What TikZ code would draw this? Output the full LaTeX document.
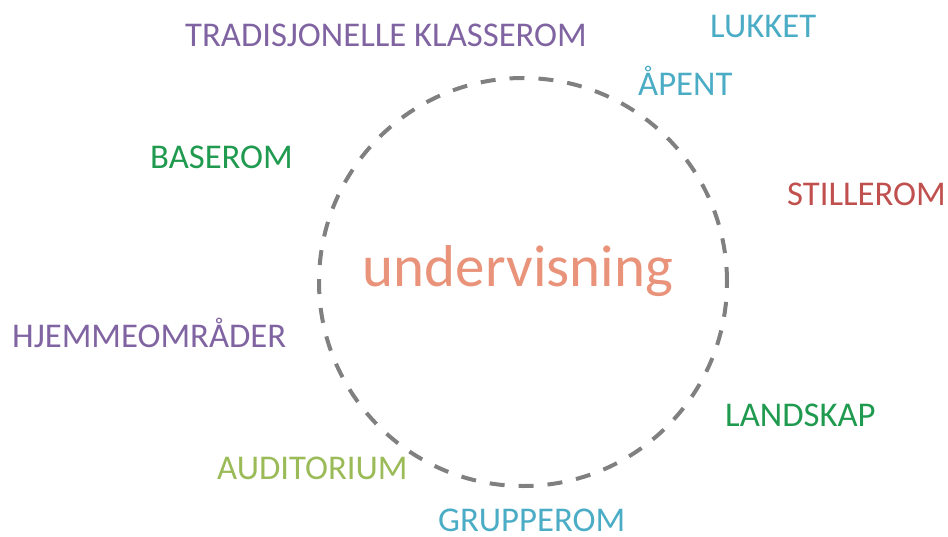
\documentclass[tikz,border=0pt]{standalone}
\usepackage{fontspec}
\setmainfont{Carlito}
\definecolor{cpurple}{HTML}{8064A2}
\definecolor{ccyan}{HTML}{4BACC6}
\definecolor{cgreen}{HTML}{1F9A4F}
\definecolor{cred}{HTML}{C0504D}
\definecolor{clight}{HTML}{9BBB59}
\definecolor{csalmon}{HTML}{E9937B}
\definecolor{cgray}{HTML}{808080}
\begin{document}
\begin{tikzpicture}[x=1pt,y=-1pt,
  lbl/.style={anchor=base west,inner sep=0pt,font=\fontsize{34.7}{34.7}\selectfont},
  ring/.style={draw=cgray,line width=4pt,dash pattern=on 15pt off 14pt}]
\useasboundingbox (0,0) rectangle (948,536);
\node[ring,circle,minimum size=408pt,inner sep=0pt] (c) at (523,282) {};
\node[anchor=base,inner sep=0pt,text=csalmon,font=\fontsize{59}{59}\selectfont] (u) at (518,286) {undervisning};
\node[lbl,text=cpurple] (t) at (185,46) {TRADISJONELLE KLASSEROM};
\node[lbl,text=ccyan] (l) at (710,37) {LUKKET};
\node[lbl,text=ccyan] (a) at (638,95) {ÅPENT};
\node[lbl,text=cgreen] (b) at (150,168) {BASEROM};
\node[lbl,text=cred] (s) at (787,205) {STILLEROM};
\node[lbl,text=cpurple] (h) at (12,347) {HJEMMEOMRÅDER};
\node[lbl,text=cgreen] (la) at (725,426) {LANDSKAP};
\node[lbl,text=clight] (au) at (217,479) {AUDITORIUM};
\node[lbl,text=ccyan] (g) at (438,531) {GRUPPEROM};
\end{tikzpicture}
\end{document}
